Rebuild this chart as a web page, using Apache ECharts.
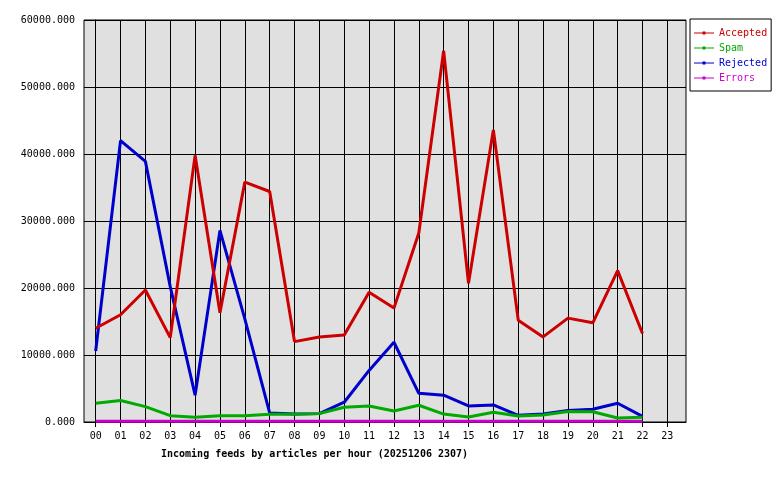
<!DOCTYPE html>
<html>
<head>
<meta charset="utf-8">
<script src="https://cdn.jsdelivr.net/npm/echarts@6/dist/echarts.min.js"></script>
<style>html,body{margin:0;padding:0;background:#fff;}#c{width:780px;height:480px;}</style>
</head>
<body>
<div id="c"></div>
<script>
const hours = ["00","01","02","03","04","05","06","07","08","09","10","11","12","13","14","15","16","17","18","19","20","21","22","23"];
const accepted = [14000,16000,19700,12600,39800,16300,35800,34400,12000,12700,13000,19350,17000,28200,55400,20700,43600,15200,12700,15500,14800,22600,13200];
const spam = [2800,3200,2300,950,700,950,950,1150,1150,1250,2200,2400,1650,2500,1180,750,1450,900,1040,1560,1540,600,700];
const rejected = [10600,42000,38900,20200,4000,28600,15400,1350,1200,1250,2950,7700,11900,4280,4000,2400,2550,1000,1180,1700,1900,2800,850];
const errors = [110,110,110,110,110,110,110,110,110,110,110,110,110,110,110,110,110,110,110,110,110,110,110];
const yTicks = [0,10000,20000,30000,40000,50000,60000];
const titleText = "Incoming feeds by articles per hour (20251206 2307)";
const seriesNames = ["Accepted","Spam","Rejected","Errors"];
const seriesColors = ["#cc0000","#00aa00","#0000cc","#cc00cc"];
const seriesData = [accepted, spam, rejected, errors];

const FONT = "DejaVu Sans Mono";
// legend glyph: thin line with a tiny hollow square in the middle (20x10 box)
const legendIcon = 'path://M0,4.5L8.5,4.5L8.5,3.5L11.5,3.5L11.5,4.5L20,4.5L20,5.5L11.5,5.5L11.5,6.5L8.5,6.5L8.5,5.5L0,5.5Z';
const chart = echarts.init(document.getElementById('c'), null, {renderer:'canvas'});
const tickIdx = hours.map((h,i)=>i);

chart.setOption({
  backgroundColor: '#ffffff',
  animation: false,
  title: {
    text: titleText,
    left: 156, top: 444,
    textStyle: {fontFamily: FONT, fontSize: 10, fontWeight: 'bold', color: '#000'}
  },
  legend: {
    orient: 'vertical',
    left: 690, top: 19,
    padding: [9, 4, 8, 4],
    itemGap: 5,
    itemWidth: 20, itemHeight: 10,
    borderColor: '#000', borderWidth: 1,
    backgroundColor: '#fff',
    itemStyle: {borderWidth: 0},
    textStyle: {fontFamily: FONT, fontSize: 10},
    data: seriesNames.map((n,i)=>({name:n, icon: legendIcon, itemStyle:{color: seriesColors[i], borderWidth: 0}, textStyle:{color: seriesColors[i]}}))
  },
  grid: {
    left: 84, top: 20, right: 94, bottom: 58,
    show: true, backgroundColor: '#e0e0e0', borderColor: '#000', borderWidth: 1
  },
  xAxis: {
    type: 'value',
    min: -0.47, max: 23.75,
    axisLine: {show: true, lineStyle: {color: '#000', width: 1}},
    axisTick: {show: true, length: 5, customValues: tickIdx, lineStyle: {color: '#000'}},
    axisLabel: {customValues: tickIdx, margin: 9, color: '#000', fontFamily: FONT, fontSize: 10,
      formatter: v => hours[Math.round(v)]},
    splitLine: {show: true, lineStyle: {color: '#000', width: 1}}
  },
  yAxis: {
    type: 'value',
    min: 0, max: 60000, interval: 10000,
    axisLine: {show: true, lineStyle: {color: '#000'}},
    axisTick: {show: true, length: 8, lineStyle: {color: '#000'}},
    axisLabel: {margin: 9, color: '#000', fontFamily: FONT, fontSize: 10,
      formatter: v => v.toFixed(3)},
    splitLine: {show: true, lineStyle: {color: '#000', width: 1}}
  },
  series: seriesNames.map((n,i)=>({
    name: n,
    type: 'line',
    data: seriesData[i].map((v,j)=>[j, v]),
    symbol: 'emptyRect', symbolSize: 4, showSymbol: false,
    color: seriesColors[i],
    lineStyle: {color: seriesColors[i], width: 3},
    itemStyle: {color: seriesColors[i]},
    z: 10 - i
  }))
});
</script>
</body>
</html>
